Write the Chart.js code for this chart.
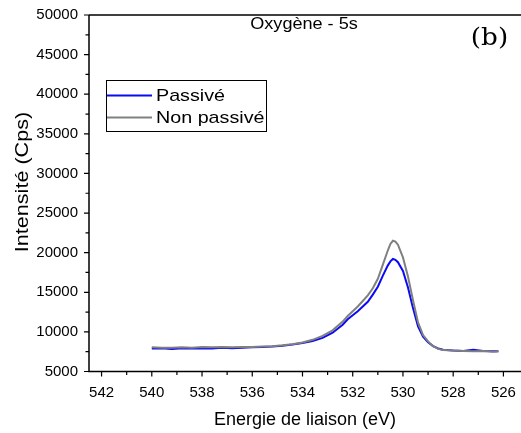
<!DOCTYPE html>
<html>
<head>
<meta charset="utf-8">
<script src="https://cdn.jsdelivr.net/npm/chart.js@4.4.0/dist/chart.umd.min.js"></script>
<style>
  html, body { margin: 0; padding: 0; background: #fff; }
  #wrap { width: 521px; height: 433px; }
</style>
</head>
<body>
<div id="wrap"><canvas id="graph" width="521" height="433"></canvas></div>
<script>
// energies (eV) and intensities (Cps)
const energie = [540, 539.6, 539.2, 538.8, 538.4, 538, 537.6, 537.2, 536.8, 536.4, 536, 535.6, 535.2, 534.8, 534.4, 534,
  533.6, 533.2, 532.8, 532.4, 532.2, 532, 531.8, 531.6, 531.4, 531.2, 531, 530.8, 530.6, 530.5, 530.4, 530.3, 530.2,
  530, 529.8, 529.6, 529.4, 529.2, 529, 528.8, 528.6, 528.4, 528, 527.6, 527.2, 526.8, 526.4, 526.2];

const passive = [7900, 7950, 7850, 7950, 7900, 7950, 7900, 8000, 7950, 8000, 8050, 8100, 8150, 8250, 8400, 8600,
  8850, 9250, 9900, 10900, 11600, 12100, 12600, 13200, 13800, 14700, 15700, 17100, 18400, 18900, 19200, 19100, 18800,
  17700, 15600, 13000, 10700, 9400, 8700, 8200, 7900, 7750, 7650, 7600, 7750, 7600, 7550, 7550];

const nonPassive = [8050, 8000, 8000, 8050, 8000, 8100, 8050, 8100, 8050, 8100, 8100, 8150, 8200, 8300, 8450, 8650,
  9000, 9500, 10200, 11300, 12000, 12600, 13200, 13900, 14600, 15500, 16700, 18500, 20300, 21100, 21500, 21400, 21000,
  19400, 17000, 14000, 11200, 9600, 8800, 8200, 7850, 7700, 7650, 7600, 7550, 7600, 7500, 7550];

const xTicks = [542, 540, 538, 536, 534, 532, 530, 528, 526];
const yTicks = [5000, 10000, 15000, 20000, 25000, 30000, 35000, 40000, 45000, 50000];

const legendItems = ['Passivé', 'Non passivé'];
const titre = 'Oxygène - 5s';
const panel = '(b)';
const yTitre = 'Intensité (Cps)';

const BLEU = '#0a0af5';
const GRIS = '#808080';
const SANS = '"Liberation Sans", Arial, sans-serif';

// texte étiré horizontalement (la figure d'origine est un peu déformée)
function stretchText(ctx, txt, x, y, sx, align) {
  ctx.save();
  ctx.translate(x, y);
  ctx.scale(sx, 1);
  ctx.textAlign = align;
  ctx.fillText(txt, 0, 0);
  ctx.restore();
}

// cadre, graduations, titre et légende
const decor = {
  id: 'decor',
  afterDraw(chart) {
    const ctx = chart.ctx;
    const a = chart.chartArea;
    const x = chart.scales.x, y = chart.scales.y;
    ctx.save();
    ctx.strokeStyle = '#000';
    ctx.lineWidth = 1.5;
    ctx.beginPath();
    ctx.moveTo(a.left, a.top);
    ctx.lineTo(a.left, a.bottom);
    ctx.lineTo(a.right, a.bottom);
    ctx.moveTo(a.left, a.top);
    ctx.lineTo(a.right, a.top);
    ctx.stroke();

    // graduations (majeures + mineures)
    ctx.lineWidth = 1.2;
    ctx.beginPath();
    for (let v = 526; v <= 542; v++) {
      const px = x.getPixelForValue(v);
      const len = v % 2 === 0 ? 5 : 3.5;
      ctx.moveTo(px, a.bottom);
      ctx.lineTo(px, a.bottom + len);
    }
    for (let v = 5000; v <= 50000; v += 2500) {
      const py = y.getPixelForValue(v);
      const len = v % 5000 === 0 ? 5 : 3.5;
      ctx.moveTo(a.left, py);
      ctx.lineTo(a.left - len, py);
    }
    ctx.stroke();

    ctx.fillStyle = '#000';
    ctx.textBaseline = 'middle';

    // titre axe y
    ctx.save();
    ctx.translate(23, 182);
    ctx.rotate(-Math.PI / 2);
    ctx.font = '18px ' + SANS;
    stretchText(ctx, yTitre, 0, 0, 1.2, 'center');
    ctx.restore();

    // titre
    ctx.font = '16px ' + SANS;
    stretchText(ctx, titre, 304, 25, 1.13, 'center');

    ctx.font = '25px "DejaVu Serif", "Liberation Serif", serif';
    stretchText(ctx, panel, 489.5, 38, 1.05, 'center');

    // légende
    ctx.lineWidth = 1;
    ctx.strokeStyle = '#000';
    ctx.strokeRect(106.5, 80.5, 160, 51);
    const cols = [BLEU, GRIS];
    ctx.font = '17px ' + SANS;
    legendItems.forEach((lbl, i) => {
      const ly = 95.5 + i * 22;
      ctx.strokeStyle = cols[i];
      ctx.lineWidth = 2;
      ctx.beginPath();
      ctx.moveTo(107, ly);
      ctx.lineTo(152, ly);
      ctx.stroke();
      stretchText(ctx, lbl, 156, ly + 1, 1.16, 'left');
    });
    ctx.restore();
  }
};

const ctx = document.getElementById('graph').getContext('2d');
const chart = new Chart(ctx, {
  type: 'line',
  data: {
    datasets: [
      {
        label: legendItems[0],
        data: energie.map((e, i) => ({ x: e, y: passive[i] })),
        borderColor: BLEU,
        borderWidth: 2,
        pointRadius: 0,
        tension: 0,
        order: 1
      },
      {
        label: legendItems[1],
        data: energie.map((e, i) => ({ x: e, y: nonPassive[i] })),
        borderColor: GRIS,
        borderWidth: 2,
        pointRadius: 0,
        tension: 0,
        order: 0
      }
    ]
  },
  options: {
    responsive: false,
    animation: false,
    layout: { padding: { top: 15, right: 0, left: 0, bottom: 0 } },
    plugins: { legend: { display: false }, tooltip: { enabled: false } },
    scales: {
      x: {
        type: 'linear',
        reverse: true,
        min: 525.3,
        max: 542.5,
        afterBuildTicks: (s) => { s.ticks = xTicks.map(v => ({ value: v })); },
        afterFit: (s) => { s.height = 61.5; },
        grid: { display: false },
        border: { display: false },
        ticks: {
          color: '#000',
          padding: 4,
          maxRotation: 0,
          callback: (v) => String(v),
          font: { family: SANS, size: 15 }
        },
        title: {
          display: true,
          text: 'Energie de liaison (eV)',
          color: '#000',
          padding: { top: 0, bottom: 2 },
          font: { family: SANS, size: 18 }
        }
      },
      y: {
        min: 5000,
        max: 50000,
        afterBuildTicks: (s) => { s.ticks = yTicks.map(v => ({ value: v })); },
        afterFit: (s) => { s.width = 89; },
        grid: { display: false },
        border: { display: false },
        ticks: {
          color: '#000',
          padding: 3,
          callback: (v) => String(v),
          font: { family: SANS, size: 15 }
        }
      }
    }
  },
  plugins: [decor]
});
</script>
</body>
</html>
